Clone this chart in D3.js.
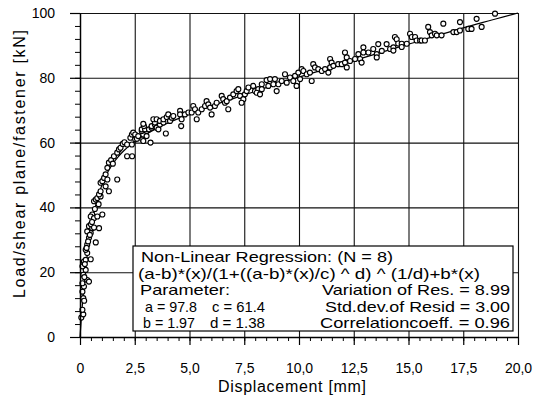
<!DOCTYPE html>
<html><head><meta charset="utf-8">
<script src="https://cdn.jsdelivr.net/npm/d3@7"></script>
<style>
body{margin:0;background:#fff}
svg{display:block}
text{font-family:"Liberation Sans",Arial,Helvetica,sans-serif;fill:#000}
</style>
</head><body>
<svg id="c" width="535" height="406"></svg>
<script>
// ---- data ----
const xTickValues = [0,2.5,5,7.5,10,12.5,15,17.5,20];
const xTickLabels = ["0","2,5","5,0","7,5","10,0","12,5","15,0","17,5","20,0"];
const yTickValues = [0,20,40,60,80,100];
const yTickLabels = ["0","20","40","60","80","100"];

const dispX = [
0.06,0.15,0.11,0.15,0.19,0.11,0.18,0.11,0.33,0.41,
0.15,0.26,0.11,0.18,0.26,0.49,0.33,0.26,0.33,0.72,
0.41,0.49,0.33,0.41,0.56,0.87,0.50,0.64,0.56,0.49,
0.64,0.79,1.02,0.64,0.72,0.79,0.94,0.87,0.94,1.32,
1.17,0.94,1.02,1.10,1.25,1.70,1.17,1.25,1.32,1.42,
1.50,1.55,1.70,1.78,1.85,1.95,2.03,2.15,2.37,2.15,
2.38,2.30,2.37,2.43,2.52,2.52,2.60,2.66,2.85,2.89,
3.22,2.89,2.82,3.04,3.04,2.82,2.97,2.92,2.89,3.15,
3.27,3.27,3.42,3.42,3.35,3.50,3.50,3.58,3.65,3.65,
3.81,3.81,3.92,3.96,4.03,4.11,4.19,4.26,4.57,4.57,
4.62,4.64,4.79,4.95,5.10,5.17,5.25,5.33,5.40,5.56,
5.71,5.78,5.86,5.94,6.01,6.16,6.24,6.47,6.54,6.62,
6.70,6.77,6.85,7.00,7.15,7.23,7.31,7.46,7.38,7.53,
7.61,7.69,7.91,7.99,8.14,8.07,8.22,8.30,8.30,8.52,
8.68,8.60,8.90,8.83,8.98,9.06,9.21,9.36,9.44,9.59,
9.74,9.82,9.89,9.97,10.05,10.12,10.20,10.35,10.50,10.58,
10.65,10.73,10.88,11.04,11.19,11.34,11.42,11.49,11.42,11.57,
11.79,11.95,12.10,12.18,12.10,12.18,12.33,12.56,12.71,12.79,
12.86,12.94,12.94,13.17,13.39,13.55,13.55,13.62,13.78,14.00,
14.16,14.31,14.31,14.38,14.46,14.53,14.69,14.69,14.92,15.07,
15.15,15.30,15.37,15.53,15.60,15.75,15.90,15.98,16.06,16.21,
16.29,16.51,16.59,17.05,17.20,17.35,17.35,17.73,17.88,18.11,
18.34,18.95,0.22,0.30,0.37,0.45,0.20,0.55,0.68,0.85
];
const loadY = [
6.0,7.0,8.4,12.0,11.2,14.0,15.6,16.6,17.6,17.1,
19.2,20.7,21.8,23.3,23.8,24.0,25.9,26.9,28.5,29.2,
30.6,32.1,32.6,34.2,33.6,33.6,34.8,33.8,37.8,37.2,
36.7,37.2,37.8,41.9,42.4,42.9,43.4,44.0,45.0,45.0,
46.5,47.6,48.1,49.1,48.6,48.6,50.2,52.2,53.8,54.6,
53.5,55.8,56.9,57.9,58.4,59.6,60.1,59.4,59.4,55.8,
55.8,61.5,62.5,63.1,62.5,61.0,61.2,62.0,61.0,60.5,
60.0,62.5,63.6,62.0,63.6,64.1,64.1,65.1,65.8,64.1,
64.6,65.1,65.6,66.2,67.2,67.2,64.6,64.1,65.6,66.7,
66.2,67.2,62.8,67.9,68.7,66.7,67.7,68.2,69.8,68.7,
65.1,67.2,68.7,69.3,69.3,71.3,70.3,67.2,69.3,70.3,
71.3,72.8,71.8,70.8,68.7,71.3,72.3,74.4,73.4,72.3,
72.8,70.3,73.9,74.9,75.9,76.5,74.4,73.4,72.3,74.9,
75.9,77.0,77.5,75.9,76.5,75.4,74.9,78.0,76.5,79.3,
79.6,77.5,79.6,78.0,75.9,78.0,79.0,81.1,78.5,80.1,
79.0,80.6,77.5,81.6,79.6,82.7,82.1,81.1,81.6,79.0,
84.2,83.2,82.7,82.1,82.7,81.6,85.8,84.7,83.2,83.7,
84.2,84.2,87.8,86.3,84.7,83.2,85.2,85.8,87.3,85.8,
84.7,89.4,87.8,87.8,88.9,87.3,86.3,90.4,88.3,90.4,
88.9,89.4,88.4,92.6,91.9,90.6,90.5,89.5,90.5,93.6,
92.6,92.6,91.5,91.5,91.5,91.5,95.7,94.1,93.1,93.6,
93.1,93.1,96.7,94.1,94.1,97.2,94.6,95.1,95.1,98.2,
95.7,99.8,22.5,27.5,29.5,31.5,18.5,35.5,39.5,41.0
];

const fitX = [0,0.05,0.1,0.15,0.2,0.25,0.35,0.5,0.65,0.75,1,1.25,1.5,1.75,2,2.5,3,3.5,4,5,6,7.5,8.75,10,12.5,15,17.5,20];
const fitY = [0,4.8,9.3,13.4,17.2,20.6,26.5,33.5,38.7,41.5,46.9,50.7,53.5,55.7,57.5,60.3,62.5,64.4,66.0,68.8,71.3,74.7,77.5,80.2,85.3,90.4,95.4,100];

const legendTitle = "Non-Linear Regression: (N = 8)";
const legendFormula = "(a-b)*(x)/(1+((a-b)*(x)/c) ^ d) ^ (1/d)+b*(x)";
const legendParamHead = "Parameter:";
const paramLeft = ["a = 97.8", "b = 1.97"];
const paramMid = ["c = 61.4", "d = 1.38"];
const statLines = ["Variation of Res. = 8.99", "Std.dev.of Resid = 3.00", "Correlationcoeff. = 0.96"];

const xTitle = "Displacement [mm]";
const yTitle = "Load/shear plane/fastener [kN]";

// ---- drawing ----
const svg = d3.select("#c");
const x = d3.scaleLinear().domain([0,20]).range([80,518]);
const y = d3.scaleLinear().domain([0,100]).range([337,13]);
const xMinor = d3.range(0, 20.0001, 0.5);
const yMinor = d3.range(0, 100.0001, 4);

// grid
svg.append("g").attr("transform",`translate(0,${y(0)})`)
  .call(d3.axisBottom(x).tickValues(xTickValues).tickSize(-(y(0)-y(100))).tickSizeOuter(0).tickFormat(""))
  .call(g=>{g.select(".domain").remove(); g.selectAll("line").attr("stroke","#111").attr("stroke-width",1.1);});
svg.append("g").attr("transform",`translate(${x(0)},0)`)
  .call(d3.axisLeft(y).tickValues(yTickValues).tickSize(-(x(20)-x(0))).tickSizeOuter(0).tickFormat(""))
  .call(g=>{g.select(".domain").remove(); g.selectAll("line").attr("stroke","#111").attr("stroke-width",1.1);});

// fit line
const pts = fitX.map((v,i)=>[v,fitY[i]]);
svg.append("path").datum(pts)
  .attr("fill","none").attr("stroke","#000").attr("stroke-width",1.2)
  .attr("d", d3.line().x(d=>x(d[0])).y(d=>y(d[1])).curve(d3.curveMonotoneX));

// points
const data = dispX.map((v,i)=>[v,loadY[i]]);
svg.append("g").selectAll("circle").data(data).join("circle")
  .attr("cx",d=>x(d[0])).attr("cy",d=>y(d[1])).attr("r",2.5)
  .attr("fill","#fff").attr("stroke","#000").attr("stroke-width",1.15);

// axes
const xAxisG = svg.append("g").attr("transform",`translate(0,${y(0)})`);
xAxisG.append("g").call(d3.axisBottom(x).tickValues(xMinor).tickSize(4).tickSizeOuter(0).tickFormat(""))
  .call(g=>{g.select(".domain").remove(); g.selectAll("line").attr("stroke","#000").attr("stroke-width",1);});
xAxisG.append("g").call(d3.axisBottom(x).tickValues(xTickValues).tickSize(8).tickSizeOuter(0).tickFormat((d,i)=>xTickLabels[i]))
  .call(g=>{
    g.select(".domain").attr("stroke","#000").attr("stroke-width",1.4);
    g.selectAll("line").attr("stroke","#000").attr("stroke-width",1.2);
    g.selectAll("text").attr("y",36).attr("dy",0).style("font-size","14px").attr("fill","#000");
  });

const yAxisG = svg.append("g").attr("transform",`translate(${x(0)},0)`);
yAxisG.append("g").call(d3.axisLeft(y).tickValues(yMinor).tickSize(5).tickSizeOuter(0).tickFormat(""))
  .call(g=>{g.select(".domain").remove(); g.selectAll("line").attr("stroke","#000").attr("stroke-width",1);});
yAxisG.append("g").call(d3.axisLeft(y).tickValues(yTickValues).tickSize(10).tickSizeOuter(0).tickPadding(15).tickFormat((d,i)=>yTickLabels[i]))
  .call(g=>{
    g.select(".domain").attr("stroke","#000").attr("stroke-width",1.4);
    g.selectAll("line").attr("stroke","#000").attr("stroke-width",1.2);
    g.selectAll("text").style("font-size","14px").attr("fill","#000");
  });

// axis titles
svg.append("text").attr("x",292).attr("y",392).attr("text-anchor","middle")
  .style("font-size","16px").attr("textLength",148).attr("lengthAdjust","spacing").text(xTitle);
svg.append("text").attr("transform","translate(25,164) rotate(-90)").attr("text-anchor","middle")
  .style("font-size","16px").attr("textLength",268).attr("lengthAdjust","spacing").text(yTitle);

// legend box
const lg = svg.append("g");
lg.append("rect").attr("x",133).attr("y",246).attr("width",380).attr("height",85)
  .attr("fill","#fff").attr("stroke","#000").attr("stroke-width",1.2);
const fs = "14.5px";
function lt(txt, xx, yy, len, anchor){
  const t = lg.append("text").attr("x",xx).attr("y",yy).style("font-size",fs)
    .attr("text-anchor",anchor||"start").text(txt);
  if(len) t.attr("textLength",len).attr("lengthAdjust","spacingAndGlyphs");
  return t;
}
const rows = [262, 278.5, 295, 311.5, 328];
lt(legendTitle, 141, rows[0], 252);
lt(legendFormula, 138, rows[1], 342);
lt(legendParamHead, 140, rows[2], 90);
lt(paramLeft[0], 145, rows[3], 52);
lt(paramLeft[1], 143, rows[4], 52);
lt(paramMid[0], 212, rows[3], 53);
lt(paramMid[1], 210, rows[4], 55);
lt(statLines[0], 510, rows[2], 188, "end");
lt(statLines[1], 510, rows[3], 185, "end");
lt(statLines[2], 510, rows[4], 190, "end");
</script>
</body></html>
